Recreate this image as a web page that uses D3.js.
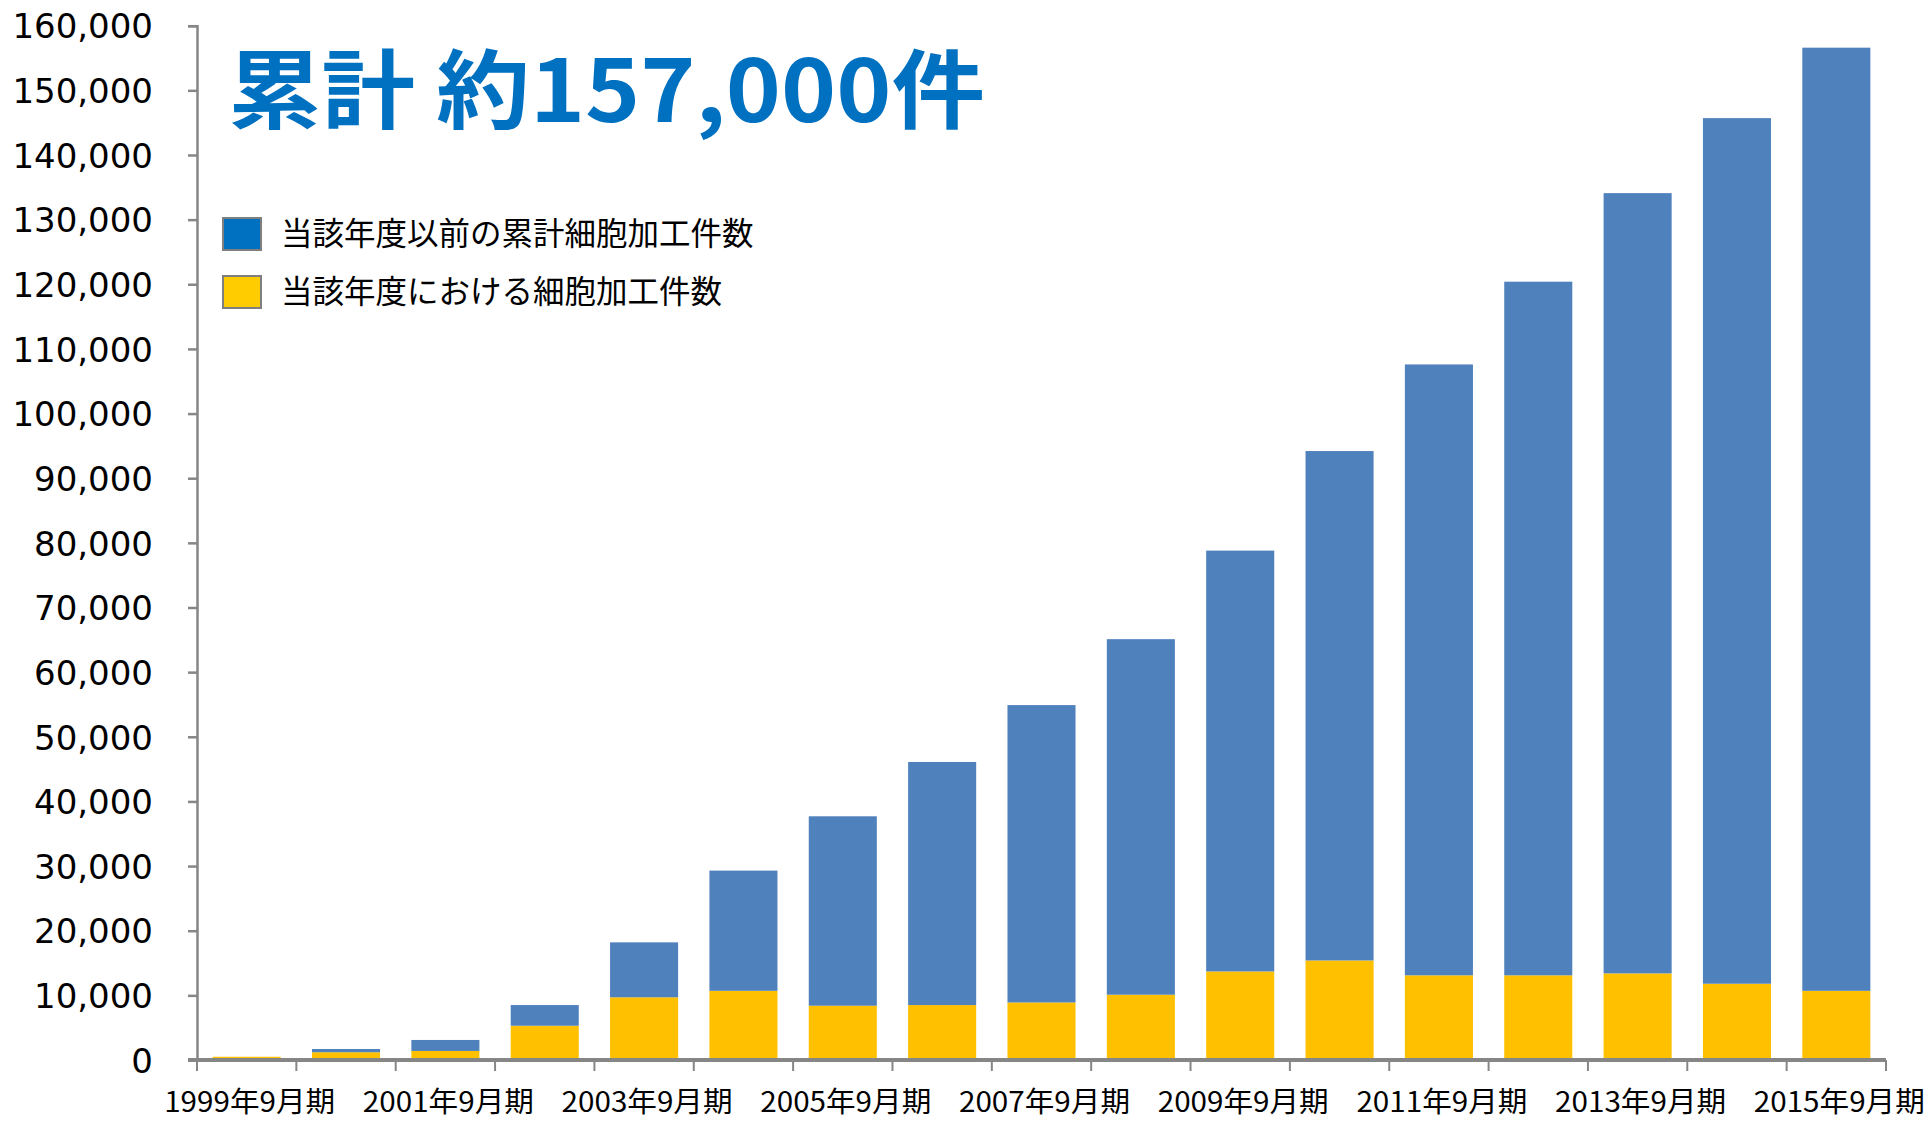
<!DOCTYPE html>
<html>
<head>
<meta charset="utf-8">
<script src="https://cdn.jsdelivr.net/npm/d3@7"></script>
<style>
  html, body { margin: 0; padding: 0; background: #fff; }
  svg { display: block; }
  .y-axis text { font-family: "DejaVu Sans", Verdana, sans-serif; font-size: 34px; fill: #000; }
  .x-label { font-family: "Liberation Sans Narrow", "Noto Sans CJK JP", sans-serif; font-size: 28px; fill: #000; }
  .legend text { font-family: "Noto Sans CJK JP", sans-serif; font-size: 31.5px; fill: #000; }
  .title { font-family: "Noto Sans CJK JP", sans-serif; font-weight: 700; font-size: 86px; fill: #0070C0; }
</style>
</head>
<body>
<svg id="chart" width="1930" height="1123"></svg>
<script>
// fiscal years (September period)
const years = [1999, 2000, 2001, 2002, 2003, 2004, 2005, 2006, 2007, 2008,
               2009, 2010, 2011, 2012, 2013, 2014, 2015];
// processing count within the year (yellow)
const annual = [500, 1200, 1400, 5300, 9700, 10700, 8400, 8500, 8900, 10100,
                13700, 15400, 13100, 13100, 13400, 11800, 10700];
// cumulative count before the year (blue)
const prior = [0, 500, 1700, 3200, 8500, 18600, 29300, 37600, 46000, 55000,
               65100, 78800, 94500, 107300, 120700, 133900, 145900];
const yTicks = d3.range(0, 160001, 10000);
const labelYears = [1999, 2001, 2003, 2005, 2007, 2009, 2011, 2013, 2015];
const legendItems = [
  { key: 'prior', label: '当該年度以前の累計細胞加工件数', color: '#0070C0' },
  { key: 'annual', label: '当該年度における細胞加工件数', color: '#FFCC00' },
];
const barColors = { annual: '#FFC000', prior: '#4F81BD' };
const titleText = '累計 約157,000件';

const svg = d3.select('#chart');
const plotLeft = 197, plotRight = 1886, plotTop = 25.7, plotBottom = 1060;

const x = d3.scaleBand()
  .domain(years)
  .range([plotLeft, plotRight])
  .paddingInner(0.315)
  .paddingOuter(0.1575);

const y = d3.scaleLinear().domain([0, 160000]).range([plotBottom, plotTop]);

const rows = years.map((yr, i) => ({ year: yr, annual: annual[i], prior: prior[i] }));
const stacked = d3.stack().keys(['annual', 'prior'])(rows);

svg.append('g')
  .selectAll('g')
  .data(stacked)
  .join('g')
  .attr('fill', (s) => barColors[s.key])
  .selectAll('rect')
  .data((s) => s)
  .join('rect')
  .attr('x', (d) => x(d.data.year))
  .attr('width', x.bandwidth())
  .attr('y', (d) => y(d[1]))
  .attr('height', (d) => Math.max(0, y(d[0]) - y(d[1])));

// y axis
const yAxis = svg.append('g')
  .attr('class', 'y-axis')
  .attr('transform', `translate(${plotLeft},0)`)
  .call(d3.axisLeft(y).tickValues(yTicks).tickSize(9).tickPadding(35)
    .tickFormat(d3.format(',')));
yAxis.select('.domain').attr('stroke', '#868686').attr('stroke-width', 2.5);
yAxis.selectAll('.tick line').attr('stroke', '#868686').attr('stroke-width', 2.5);
yAxis.selectAll('.tick text').attr('dy', '0.36em');

// x axis line with boundary ticks
const xg = svg.append('g');
const bounds = years.map((yr) => x(yr) - x.step() * x.paddingInner() / 2);
bounds.push(plotRight);
xg.selectAll('line.tk')
  .data(bounds)
  .join('line')
  .attr('class', 'tk')
  .attr('x1', (d) => d).attr('x2', (d) => d)
  .attr('y1', plotBottom).attr('y2', plotBottom + 11)
  .attr('stroke', '#868686').attr('stroke-width', 2);
xg.append('line')
  .attr('x1', plotLeft - 9).attr('x2', plotRight)
  .attr('y1', plotBottom).attr('y2', plotBottom)
  .attr('stroke', '#868686').attr('stroke-width', 4);

xg.selectAll('text')
  .data(labelYears)
  .join('text')
  .attr('class', 'x-label')
  .attr('x', (d) => x(d) + x.bandwidth() / 2 + 3)
  .attr('y', 1112)
  .attr('text-anchor', 'middle')
  .attr('textLength', 171)
  .attr('lengthAdjust', 'spacingAndGlyphs')
  .text((d) => `${d}年9月期`);

// legend
const legend = svg.append('g').attr('class', 'legend');
legendItems.forEach((item, i) => {
  const cy = 234 + i * 58;
  legend.append('rect')
    .attr('x', 223).attr('y', cy - 16)
    .attr('width', 38).attr('height', 32)
    .attr('fill', item.color)
    .attr('stroke', '#7F7F7F').attr('stroke-width', 2);
  legend.append('text')
    .attr('x', 281).attr('y', cy)
    .attr('dy', '0.36em')
    .text(item.label);
});

// title
svg.append('text')
  .attr('class', 'title')
  .attr('x', 228)
  .attr('y', 122)
  .attr('textLength', 757)
  .attr('lengthAdjust', 'spacingAndGlyphs')
  .text(titleText);
</script>
</body>
</html>
